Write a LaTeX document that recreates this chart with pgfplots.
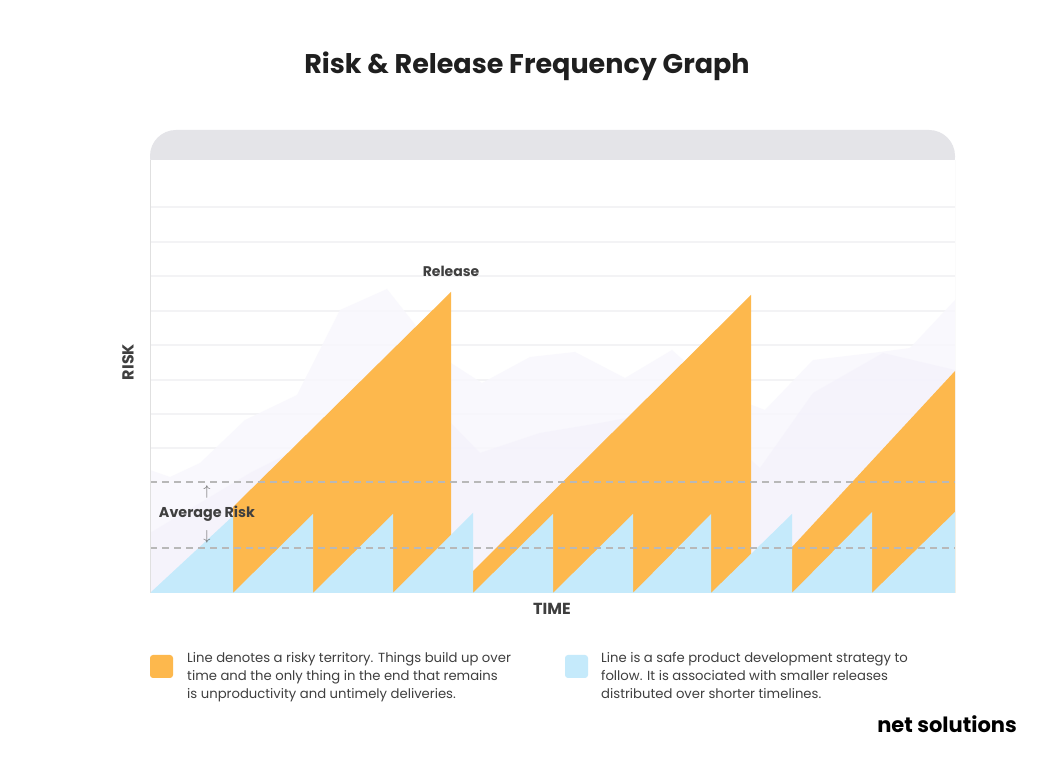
\documentclass[border=0pt]{standalone}
\usepackage{pgfplots}
\pgfplotsset{compat=1.18}
\usepackage{fontspec}
\setmainfont{Lato}
\newfontfamily\legfont{Poppins}
\definecolor{orng}{HTML}{FDB84D}
\definecolor{blu}{HTML}{C5EAFB}
\definecolor{lav1}{HTML}{F8F7FD}
\definecolor{lav2}{HTML}{F2EFFB}
\definecolor{hdr}{HTML}{E4E4E8}
\definecolor{gridc}{HTML}{F3F3F5}
\definecolor{txt}{HTML}{3F3F3F}
\begin{document}
\begin{tikzpicture}[x=1pt,y=1pt]
\path[fill=white,use as bounding box] (0,0) rectangle (1055,773);
% header band
\fill[hdr,rounded corners=26pt] (150,590) rectangle (955,643);
\begin{axis}[
  at={(150,180)}, anchor=south west,
  scale only axis, width=805pt, height=433pt,
  xmin=150, xmax=955, ymin=0, ymax=433,
  axis background/.style={fill=white},
  axis line style={draw=none},
  xtick=\empty,
  ytick={145,179,213,248,282,317,351,386},
  yticklabels={},
  major tick length=0pt,
  ymajorgrids,
  grid style={gridc, line width=1.2pt},
  clip=true,
]
% background lavender layers
\addplot[fill=lav1, draw=none, fill opacity=0.8] coordinates {
 (150,0) (150,123) (170,116) (200,130) (245,173) (297,198) (340,283) (387,304)
 (417,266) (451,230) (482,210) (530,236) (575,241) (625,215) (672,243) (720,200)
 (765,183) (813,233) (880,241) (910,245) (955,293) (955,0)} -- cycle;
\addplot[fill=lav2, draw=none, fill opacity=0.5] coordinates {
 (150,0) (150,60) (250,120) (330,160) (420,180) (451,170) (480,140) (540,160)
 (600,170) (680,185) (720,160) (760,125) (813,200) (883,240) (955,223) (955,0)} -- cycle;
% orange (risky) series
\addplot[fill=orng, draw=none] coordinates {(233,0) (233,86) (451,301) (451,0)} -- cycle;
\addplot[fill=orng, draw=none] coordinates {(473,0) (473,22) (751,298) (751,0)} -- cycle;
\addplot[fill=orng, draw=none] coordinates {(792,0) (792,46) (955,222) (955,0)} -- cycle;
% blue (safe) series
\addplot[fill=blu, draw=none] coordinates {
 (150,0) (233,77) (233,0) (313,79) (313,0) (393,79) (393,0) (473,80) (473,0)
 (553,79) (553,0) (633,79) (633,0) (711,79) (711,0) (792,79) (792,0)
 (872,81) (872,0) (955,81) (955,0)} -- cycle;
% average risk band
\addplot[draw=black!28, line width=1.2pt, dash pattern=on 7pt off 5pt] coordinates {(150,111) (955,111)};
\addplot[draw=black!28, line width=1.2pt, dash pattern=on 7pt off 5pt] coordinates {(150,45) (955,45)};
% side borders
\draw[black!12, line width=1pt] (rel axis cs:0,0) -- (rel axis cs:0,1);
\draw[black!12, line width=1pt] (rel axis cs:1,0) -- (rel axis cs:1,1);
\end{axis}
% texts
\node[font=\legfont\fontsize{27}{32}\selectfont\bfseries, text=black!88] at (527,707) {Risk \& Release Frequency Graph};
\node[font=\legfont\fontsize{14}{16}\selectfont\bfseries, text=txt] at (451,502) {Release};
\node[font=\legfont\fontsize{14.3}{16}\selectfont\bfseries, text=txt] at (207,259) {Average Risk};
\node[text=black!60, font=\fontsize{15}{16}\selectfont] at (207,281) {$\uparrow$};
\node[text=black!60, font=\fontsize{15}{16}\selectfont] at (207,236) {$\downarrow$};
\node[rotate=90, font=\legfont\fontsize{16}{18}\selectfont\bfseries, text=txt] at (128,411) {RISK};
\node[font=\legfont\fontsize{16}{18}\selectfont\bfseries, text=txt] at (552,164) {TIME};
% legend
\fill[orng, rounded corners=3pt] (150,95) rectangle (173,118);
\fill[blu, rounded corners=3pt] (565,95) rectangle (588,118);
\node[anchor=north west, inner sep=0pt, align=left, text=txt, font=\legfont\fontsize{13.2}{18}\selectfont] at (187,121)
 {Line denotes a risky territory. Things build up over\\time and the only thing in the end that remains\\is unproductivity and untimely deliveries.};
\node[anchor=north west, inner sep=0pt, align=left, text=txt, font=\legfont\fontsize{13.2}{18}\selectfont] at (601,121)
 {Line is a safe product development strategy to\\follow. It is associated with smaller releases\\distributed over shorter timelines.};
% logo
\node[font=\legfont\fontsize{21}{24}\selectfont\bfseries, text=black] at (947,49) {net solutions};
\end{tikzpicture}
\end{document}
